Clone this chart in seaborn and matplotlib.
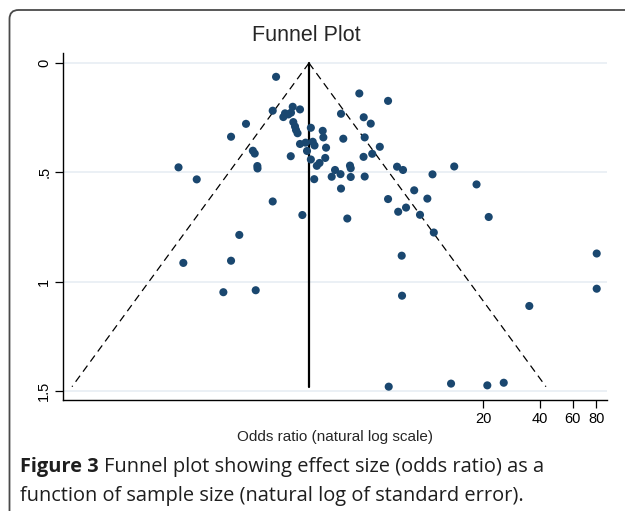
import numpy as np
import pandas as pd
import matplotlib
matplotlib.use('Agg')
import matplotlib.pyplot as plt
from matplotlib.patches import FancyBboxPatch
from matplotlib.ticker import NullLocator, FixedLocator, FixedFormatter
import seaborn as sns

# natural log of odds ratio and its standard error, one entry per study
log_or = [0.463, 1.482, 1.834, 0.667, 0.756, 0.422, 1.258, 0.573, 0.552, 0.613,
          0.646, 1.536, 1.622, 0.095, 0.674, 0.695, 0.707, 0.726, 0.889, 1.034,
          -0.088, 1.042, 1.286, 1.548, 0.756, 0.824, 0.912, 0.934, 1.075, 1.733,
          0.179, 0.202, 0.842, 1.640, 0.643, 1.534, 0.889, 1.065, 0.995, 0.962,
          1.368, 1.377, 1.185, -0.731, 0.234, 0.236, 1.944, 2.017, 2.644, 1.252,
          1.144, 1.377, 1.548, 2.378, -0.508, 0.930, 2.917, 1.258, 2.154, 1.834,
          2.315, 0.422, 1.958, 2.054, 2.225, 3.066, 1.335, 0.785, 2.394, 0.013,
          -0.088, -0.672, 2.001, 4.388, -0.182, 0.214, 2.005, 4.388, 3.563, 1.842,
          2.605, 3.049, 3.250]
se = [0.063, 0.139, 0.173, 0.200, 0.212, 0.218, 0.232, 0.230, 0.247, 0.235,
      0.227, 0.248, 0.277, 0.278, 0.270, 0.290, 0.306, 0.321, 0.296, 0.310,
      0.337, 0.340, 0.346, 0.340, 0.370, 0.364, 0.360, 0.377, 0.387, 0.383,
      0.401, 0.414, 0.402, 0.415, 0.426, 0.429, 0.441, 0.434, 0.457, 0.470,
      0.469, 0.481, 0.489, 0.477, 0.471, 0.482, 0.474, 0.489, 0.473, 0.508,
      0.520, 0.521, 0.519, 0.509, 0.532, 0.531, 0.555, 0.574, 0.582, 0.622,
      0.620, 0.633, 0.680, 0.661, 0.694, 0.704, 0.711, 0.695, 0.775, 0.786,
      0.904, 0.914, 0.881, 0.871, 1.048, 1.039, 1.064, 1.032, 1.111, 1.480,
      1.466, 1.474, 1.462]
pooled_log_or = 0.866

xticks = [20, 40, 60, 80]
yticks = [0, 0.5, 1, 1.5]
ytick_labels = ['0', '.5', '1', '1.5']

df = pd.DataFrame({'or': np.exp(log_or), 'se': se})

sns.set_style('white')
plt.rcParams['font.family'] = ['Liberation Sans', 'DejaVu Sans']

fig = plt.figure(figsize=(6.25, 5.11), dpi=100)

# rounded frame around the figure panel
bg = fig.add_axes([0, 0, 1, 1], zorder=0)
bg.set_xlim(0, 625)
bg.set_ylim(511, 0)
bg.axis('off')
bg.add_patch(FancyBboxPatch((9.5, 10), 700, 600, boxstyle='round,pad=0,rounding_size=9',
                            fc='white', ec='#4a4a4a', lw=1.3))

ax = fig.add_axes([0.1008, 0.2172, 0.8704, 0.6791], zorder=1)
ax.patch.set_alpha(0)

# funnel limits and pooled estimate
se_max = max(se)
se_line = np.array([0, se_max])
ax.plot(np.exp(pooled_log_or - 1.96 * se_line), se_line, color='black', lw=0.9, ls=(0, (6, 4)), zorder=2)
ax.plot(np.exp(pooled_log_or + 1.96 * se_line), se_line, color='black', lw=0.9, ls=(0, (6, 4)), zorder=2)
ax.plot([np.exp(pooled_log_or)] * 2, se_line, color='black', lw=1.6, zorder=2)

sns.scatterplot(data=df, x='or', y='se', ax=ax, color='#1a476f', s=34, edgecolor='none', zorder=3)

ax.set_xscale('log')
ax.set_xlim(np.exp(-2.145), np.exp(4.514))
ax.set_ylim(1.541, -0.046)
ax.xaxis.set_major_locator(FixedLocator(xticks))
ax.xaxis.set_major_formatter(FixedFormatter([str(t) for t in xticks]))
ax.xaxis.set_minor_locator(NullLocator())
ax.set_yticks(yticks)
ax.set_yticklabels(ytick_labels, rotation=90, va='center')

ax.grid(axis='y', color='#e9eff4', lw=1.3)
ax.set_axisbelow(True)
for s in ['top', 'right']:
    ax.spines[s].set_visible(False)
for s in ['left', 'bottom']:
    ax.spines[s].set_color('black')
    ax.spines[s].set_linewidth(1.0)
ax.tick_params(axis='both', direction='out', length=5.5, width=0.9, color='black',
               labelsize=10.5, labelcolor='black', pad=3, left=True, bottom=True)

ax.set_xlabel('Odds ratio (natural log scale)', fontsize=11, labelpad=3)
ax.set_ylabel('')

fig.text(0.49, 0.931, 'Funnel Plot', fontsize=15.5, ha='center', va='center')

# caption: bold label, then the rest right after it
cap_font = ['Open Sans', 'DejaVu Sans']
cap_size = 14.4
lbl = fig.text(0.032, 0.0861, 'Figure 3', fontsize=cap_size, fontweight='bold', color='#1e1e1e',
               family=cap_font, va='center')
renderer = fig.canvas.get_renderer()
bb = lbl.get_window_extent(renderer=renderer)
space = 5.0
fig.text((bb.x1 + space) / fig.bbox.width, 0.0861, 'Funnel plot showing effect size (odds ratio) as a',
         fontsize=cap_size, color='#1e1e1e', family=cap_font, va='center')
fig.text(0.032, 0.0294, 'function of sample size (natural log of standard error).', fontsize=cap_size,
         color='#1e1e1e', family=cap_font, va='center')

fig.savefig('out.png', dpi=100)
